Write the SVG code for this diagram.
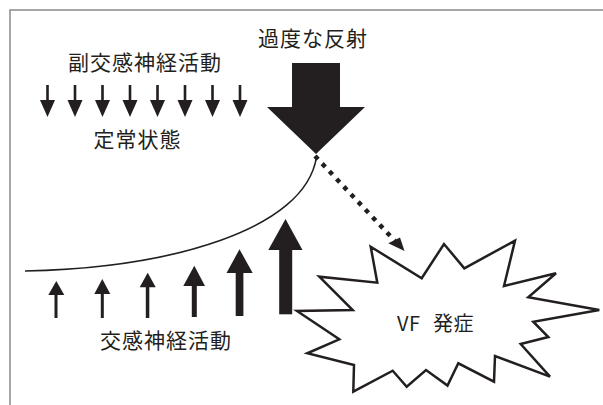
<svg xmlns="http://www.w3.org/2000/svg" width="603" height="405" viewBox="0 0 603 405">
<style>
.t{font-family:"Noto Sans CJK JP","Noto Sans",sans-serif;font-size:21px;fill:#231f20;text-anchor:middle;letter-spacing:1px}
.k{fill:#231f20}
</style>
<defs>
<g id="da"><rect x="-1.3" y="85" width="2.6" height="16" class="k"/><polygon points="-7.5,100 7.5,100 0,117" class="k"/></g>
</defs>
<rect width="603" height="405" fill="#fff"/>
<g id="frame" fill="none" stroke="#8a8a8a" stroke-width="1.5"><path d="M10,405 V10 H603"/></g>
<g id="label-reflex"><text class="t" x="313" y="46">過度な反射</text></g>
<g id="label-para"><text class="t" x="145" y="70">副交感神経活動</text></g>
<g id="label-steady"><text class="t" x="137.5" y="147">定常状態</text></g>
<g id="label-symp"><text class="t" x="166" y="348">交感神経活動</text></g>
<g id="down-arrows">
<use href="#da" x="47.5"/><use href="#da" x="75"/><use href="#da" x="102.5"/><use href="#da" x="130"/>
<use href="#da" x="157.5"/><use href="#da" x="185"/><use href="#da" x="212.5"/><use href="#da" x="240"/>
</g>
<g id="big-arrow"><polygon class="k" points="292,63 340,63 340,107 365,107 316,154 267,107 292,107"/></g>
<g id="up-arrows" class="k">
<rect x="54.5" y="294" width="3" height="24"/><polygon points="48.3,295 64.3,295 56.3,281"/>
<rect x="100.8" y="293" width="3" height="25"/><polygon points="94.3,294 110.3,294 102.3,279"/>
<rect x="145.8" y="286" width="3.5" height="32"/><polygon points="139.7,287.3 155.7,287.3 147.7,272.7"/>
<rect x="191.8" y="285" width="5" height="32"/><polygon points="183.3,286 205,286 194.3,265.7"/>
<rect x="235.7" y="272" width="7.7" height="44"/><polygon points="226.5,273 252.7,273 239.5,249.3"/>
<rect x="279.2" y="249" width="13" height="65.3"/><polygon points="268.3,250 302.5,250 285.5,219"/>
</g>
<g id="connectors">
<path d="M25,271 C170,268 305,230 316.5,157" fill="none" stroke="#231f20" stroke-width="1.6"/>
<path d="M315,156 L395,241" fill="none" stroke="#231f20" stroke-width="4.5" stroke-dasharray="4.5 6"/>
<polygon class="k" points="388.3,243.3 400,237.5 404.5,251"/>
</g>
<g id="vf">
<polygon fill="#fff" stroke="#231f20" stroke-width="2.5" stroke-linejoin="miter" points="370.7,246.7 421.7,278.3 444,244 464.3,268.3 515,240.7 504,286 556,273.3 528.3,297.3 599.3,310 533.3,321.7 548.3,337 520.7,344 550,376.7 495,356 494,381.7 458.3,363.3 447.5,385.5 426,370 406.7,386.7 392.7,370.7 353.3,391.7 354,365 307.3,353.3 339.3,339.3 297,311 352.7,310 319.3,276.7 377.3,282.7"/>
<text class="t" y="331" style="font-size:20px;letter-spacing:0.5px;text-anchor:start"><tspan x="397">VF </tspan><tspan x="433">発症</tspan></text>
</g>
</svg>
